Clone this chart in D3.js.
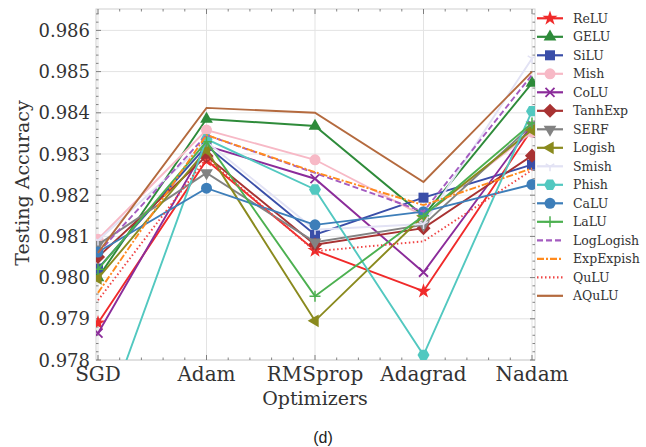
<!DOCTYPE html>
<html>
<head>
<meta charset="utf-8">
<script src="https://cdn.jsdelivr.net/npm/d3@7"></script>
<style>
  body { margin: 0; background: #fff; }
  text { font-family: "DejaVu Serif", serif; fill: #333; }
</style>
</head>
<body>
<div id="chart"></div>
<script>
const optimizers = ['SGD', 'Adam', 'RMSprop', 'Adagrad', 'Nadam'];
const yTicks = [0.978, 0.979, 0.980, 0.981, 0.982, 0.983, 0.984, 0.985, 0.986];

const names = ['ReLU', 'GELU', 'SiLU', 'Mish', 'CoLU', 'TanhExp', 'SERF', 'Logish',
  'Smish', 'Phish', 'CaLU', 'LaLU', 'LogLogish', 'ExpExpish', 'QuLU', 'AQuLU'];

const relu      = [0.97890, 0.98285, 0.98066, 0.97967, 0.98360];
const gelu      = [0.98000, 0.98385, 0.98368, 0.98150, 0.98472];
const silu      = [0.98022, 0.98320, 0.98104, 0.98194, 0.98274];
const mish      = [0.98093, 0.98358, 0.98286, 0.98150, 0.98353];
const colu      = [0.97865, 0.98320, 0.98240, 0.98013, 0.98370];
const tanhexp   = [0.98050, 0.98295, 0.98080, 0.98120, 0.98296];
const serf      = [0.98080, 0.98254, 0.98086, 0.98128, 0.98370];
const logish    = [0.97998, 0.98310, 0.97895, 0.98150, 0.98358];
const smish     = [0.98090, 0.98330, 0.98116, 0.98130, 0.98532];
const phish     = [0.97609, 0.98336, 0.98214, 0.97812, 0.98404];
const calu      = [0.98062, 0.98217, 0.98128, 0.98160, 0.98226];
const lalu      = [0.98020, 0.98330, 0.97955, 0.98150, 0.98375];
const loglogish = [0.98060, 0.98346, 0.98254, 0.98160, 0.98492];
const expexpish = [0.97963, 0.98346, 0.98256, 0.98176, 0.98265];
const qulu      = [0.97945, 0.98290, 0.98064, 0.98088, 0.98261];
const aqulu     = [0.98060, 0.98412, 0.98400, 0.98232, 0.98500];

const values = [relu, gelu, silu, mish, colu, tanhexp, serf, logish,
  smish, phish, calu, lalu, loglogish, expexpish, qulu, aqulu];

// style per series: colour, marker, dash
const styles = [
  { c: '#f02a2a', m: 'star' },
  { c: '#2e8b3a', m: 'tri' },
  { c: '#3a4ea8', m: 'square' },
  { c: '#f7b9c6', m: 'circle' },
  { c: '#8b2c9a', m: 'x' },
  { c: '#a83232', m: 'diamond' },
  { c: '#828282', m: 'tridown' },
  { c: '#8a8a1e', m: 'trileft' },
  { c: '#e2e2f4', m: 'wye' },
  { c: '#52c8c0', m: 'hex' },
  { c: '#3d7eb9', m: 'circle' },
  { c: '#4cb050', m: 'plus' },
  { c: '#a45cc0', m: null, dash: '6,3' },
  { c: '#ff8a1e', m: null, dash: '7,2,2,2' },
  { c: '#f04444', m: null, dash: '1.5,2.5' },
  { c: '#b46a3e', m: null }
];

const W = 646, H = 447;
const plot = { left: 96, right: 535, top: 9, bottom: 360 };

const svg = d3.select('#chart').append('svg')
  .attr('width', W).attr('height', H);

const x = d3.scalePoint()
  .domain(optimizers)
  .range([98, 532]);

const y = d3.scaleLinear()
  .domain([0.978, 0.978 + (plot.bottom - plot.top) / 41200])
  .range([plot.bottom, plot.top]);

// grid
svg.append('g').selectAll('line.gy')
  .data(yTicks)
  .join('line')
  .attr('x1', plot.left).attr('x2', plot.right)
  .attr('y1', d => y(d)).attr('y2', d => y(d))
  .attr('stroke', '#e3e3e3').attr('stroke-width', 1);

svg.append('g').selectAll('line.gx')
  .data(optimizers)
  .join('line')
  .attr('x1', d => x(d)).attr('x2', d => x(d))
  .attr('y1', plot.top).attr('y2', plot.bottom)
  .attr('stroke', '#e3e3e3').attr('stroke-width', 1);

// frame
svg.append('rect')
  .attr('x', plot.left).attr('y', plot.top)
  .attr('width', plot.right - plot.left).attr('height', plot.bottom - plot.top)
  .attr('fill', 'none').attr('stroke', '#d0d0d0').attr('stroke-width', 1);

// ticks (inward, major + minor)
const ticks = svg.append('g').attr('stroke', '#666').attr('stroke-width', 0.8);
const yMinor = d3.range(0, 43).map(i => 0.978 + i * 0.0002).filter(v => y(v) >= plot.top);
yMinor.forEach((v, i) => {
  const len = i % 5 === 0 ? 5 : 2.5;
  ticks.append('line').attr('x1', plot.left).attr('x2', plot.left + len)
    .attr('y1', y(v)).attr('y2', y(v));
  ticks.append('line').attr('x1', plot.right).attr('x2', plot.right - len)
    .attr('y1', y(v)).attr('y2', y(v));
});
const xStep = (x('Adam') - x('SGD')) / 5;
for (let i = 0; i <= 20; i++) {
  const px = x('SGD') + i * xStep;
  const len = i % 5 === 0 ? 5 : 2.5;
  ticks.append('line').attr('x1', px).attr('x2', px)
    .attr('y1', plot.bottom).attr('y2', plot.bottom - len);
  ticks.append('line').attr('x1', px).attr('x2', px)
    .attr('y1', plot.top).attr('y2', plot.top + len);
}

// tick labels
svg.append('g').selectAll('text')
  .data(yTicks)
  .join('text')
  .attr('x', 90).attr('y', d => y(d) + 6.5)
  .attr('text-anchor', 'end')
  .attr('font-size', 18)
  .text(d => d3.format('.3f')(d));

svg.append('g').selectAll('text')
  .data(optimizers)
  .join('text')
  .attr('x', d => x(d)).attr('y', 381)
  .attr('text-anchor', 'middle')
  .attr('font-size', 20)
  .text(d => d);

svg.append('text')
  .attr('x', 315).attr('y', 405)
  .attr('text-anchor', 'middle')
  .attr('font-size', 19)
  .text('Optimizers');

svg.append('text')
  .attr('transform', 'translate(29,183) rotate(-90)')
  .attr('text-anchor', 'middle')
  .attr('font-size', 19)
  .text('Testing Accuracy');

svg.append('text')
  .attr('x', 323).attr('y', 443)
  .attr('text-anchor', 'middle')
  .attr('font-size', 16)
  .style('font-family', '"Liberation Sans", Arial, sans-serif')
  .style('fill', '#222')
  .text('(d)');

// markers
function drawMarker(g, type, color, cx, cy) {
  const s = 9;
  if (type === 'star') {
    g.append('path').attr('d', d3.symbol(d3.symbolStar, 70)())
      .attr('transform', `translate(${cx},${cy})`).attr('fill', color);
  } else if (type === 'tri' || type === 'tridown' || type === 'trileft') {
    const rot = type === 'tri' ? 0 : type === 'tridown' ? 180 : -90;
    g.append('path').attr('d', d3.symbol(d3.symbolTriangle, 70)())
      .attr('transform', `translate(${cx},${cy}) rotate(${rot})`).attr('fill', color);
  } else if (type === 'square') {
    g.append('rect').attr('x', cx - 5).attr('y', cy - 5).attr('width', 10).attr('height', 10)
      .attr('fill', color);
  } else if (type === 'diamond') {
    g.append('rect').attr('x', -5).attr('y', -5).attr('width', 10).attr('height', 10)
      .attr('transform', `translate(${cx},${cy}) rotate(45)`).attr('fill', color);
  } else if (type === 'circle') {
    g.append('circle').attr('cx', cx).attr('cy', cy).attr('r', 5.5).attr('fill', color);
  } else if (type === 'hex') {
    const pts = d3.range(6).map(i => {
      const a = Math.PI / 6 + i * Math.PI / 3 - Math.PI / 2;
      return [cx + 6 * Math.cos(a), cy + 6 * Math.sin(a)];
    });
    g.append('polygon').attr('points', pts.map(p => p.join(',')).join(' ')).attr('fill', color);
  } else if (type === 'x') {
    g.append('path').attr('d', `M${cx - 4.5},${cy - 4.5}L${cx + 4.5},${cy + 4.5}M${cx - 4.5},${cy + 4.5}L${cx + 4.5},${cy - 4.5}`)
      .attr('stroke', color).attr('stroke-width', 1.8);
  } else if (type === 'plus') {
    g.append('path').attr('d', `M${cx - s / 2 - 1},${cy}L${cx + s / 2 + 1},${cy}M${cx},${cy - s / 2 - 1}L${cx},${cy + s / 2 + 1}`)
      .attr('stroke', color).attr('stroke-width', 1.5);
  } else if (type === 'wye') {
    g.append('path').attr('d', `M${cx},${cy}L${cx},${cy + 5}M${cx},${cy}L${cx - 4.3},${cy - 2.5}M${cx},${cy}L${cx + 4.3},${cy - 2.5}`)
      .attr('stroke', color).attr('stroke-width', 1.5);
  }
}

svg.append('defs').append('clipPath').attr('id', 'clip')
  .append('rect').attr('x', plot.left).attr('y', plot.top)
  .attr('width', plot.right - plot.left).attr('height', plot.bottom - plot.top);

const line = d3.line()
  .x((d, i) => x(optimizers[i]))
  .y(d => y(d));

const series = svg.append('g').attr('clip-path', 'url(#clip)');
names.forEach((name, k) => {
  const st = styles[k];
  const g = series.append('g');
  g.append('path')
    .attr('d', line(values[k]))
    .attr('fill', 'none')
    .attr('stroke', st.c)
    .attr('stroke-width', 1.9)
    .attr('stroke-dasharray', st.dash || null);
  if (st.m) {
    values[k].forEach((v, i) => drawMarker(g, st.m, st.c, x(optimizers[i]), y(v)));
  }
});

// legend
const legend = svg.append('g');
names.forEach((name, k) => {
  const st = styles[k];
  const ly = 18.3 + k * 18.5;
  legend.append('line')
    .attr('x1', 537).attr('x2', 563).attr('y1', ly).attr('y2', ly)
    .attr('stroke', st.c).attr('stroke-width', 2.2)
    .attr('stroke-dasharray', st.dash || null);
  if (st.m) drawMarker(legend, st.m, st.c, 550, ly);
  legend.append('text')
    .attr('x', 573).attr('y', ly + 4.5)
    .attr('font-size', 12.5)
    .text(name);
});
</script>
</body>
</html>
